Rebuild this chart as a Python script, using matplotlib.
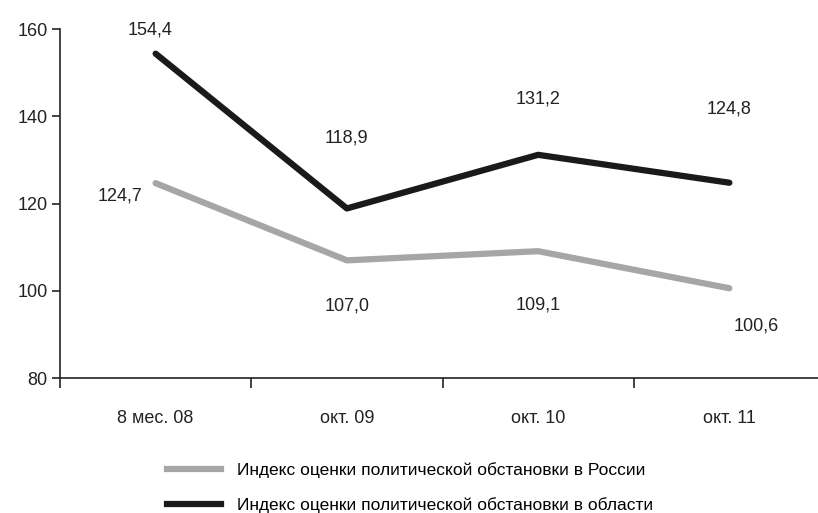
import matplotlib
matplotlib.use("Agg")
import matplotlib.pyplot as plt
from matplotlib.lines import Line2D

plt.rcParams['font.family'] = ['Liberation Sans', 'DejaVu Sans']

categories = ["8 мес. 08", "окт. 09", "окт. 10", "окт. 11"]
russia = [124.7, 107.0, 109.1, 100.6]
region = [154.4, 118.9, 131.2, 124.8]
russia_labels = ["124,7", "107,0", "109,1", "100,6"]
region_labels = ["154,4", "118,9", "131,2", "124,8"]
legend_labels = ["Индекс оценки политической обстановки в России",
                 "Индекс оценки политической обстановки в области"]

# label offsets in points (dx, dy)
russia_off = [(-26, -9), (0, -33), (0, -39), (19, -27)]
region_off = [(-4, 17), (0, 51), (0, 40), (0, 53)]

gray = "#a6a6a8"
black = "#1a1a1a"
txt = "#222222"

fig = plt.figure(figsize=(8.18, 5.13), dpi=100)
ax = fig.add_axes([60/818, 0.263, 765/818, 0.680])

x = list(range(len(categories)))
ax.plot(x, russia, color=gray, lw=4.5, solid_capstyle='round')
ax.plot(x, region, color=black, lw=4.5, solid_capstyle='round')

for xi, v, lab, off in zip(x, russia, russia_labels, russia_off):
    ax.annotate(lab, (xi, v), xytext=off, textcoords='offset points',
                ha='center', va='center', fontsize=13, color=txt)
for xi, v, lab, off in zip(x, region, region_labels, region_off):
    ax.annotate(lab, (xi, v), xytext=off, textcoords='offset points',
                ha='center', va='center', fontsize=13, color=txt)

ax.set_xlim(-0.5, 3.5)
ax.set_ylim(80, 160)
ax.set_yticks([80, 100, 120, 140, 160])
ax.set_xticks([-0.5, 0.5, 1.5, 2.5])
ax.set_xticklabels([])
ax.set_xticks(x, minor=True)
ax.set_xticklabels(categories, minor=True)
ax.tick_params(axis='x', which='minor', length=0, pad=23, labelsize=13, colors=txt)
ax.tick_params(axis='x', which='major', length=7, width=1.2, direction='out')
ax.tick_params(axis='y', length=6, width=1.2, direction='out', labelsize=13, pad=3, colors=txt)
ax.tick_params(axis='both', which='major', color=txt)
for s in ['top', 'right']:
    ax.spines[s].set_visible(False)
for s in ['left', 'bottom']:
    ax.spines[s].set_linewidth(1.2)
    ax.spines[s].set_color(txt)

handles = [Line2D([], [], color=gray, lw=4.5), Line2D([], [], color=black, lw=4.5)]
fig.legend(handles, legend_labels, loc='upper left', bbox_to_anchor=(160/818, 1 - 455/513),
           frameon=False, fontsize=12.5, handlelength=3.1, handletextpad=0.95,
           labelspacing=1.1, borderaxespad=0)

fig.savefig("out.png", dpi=100)
